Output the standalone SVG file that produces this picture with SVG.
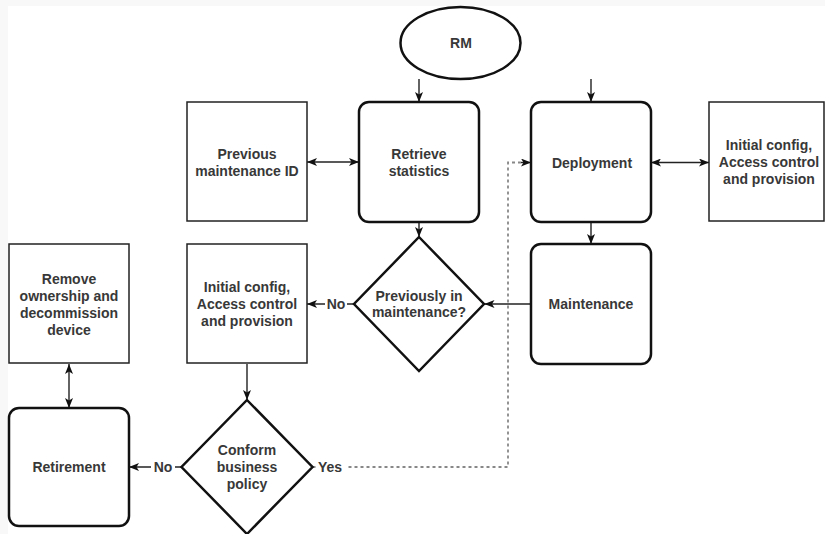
<svg xmlns="http://www.w3.org/2000/svg" width="825" height="534" viewBox="0 0 825 534">
  <defs>
    <marker id="arrow" viewBox="0 0 10 8" refX="10" refY="4" markerWidth="10" markerHeight="8" markerUnits="userSpaceOnUse" orient="auto-start-reverse">
      <path d="M0,0 L10,4 L0,8 L2.5,4 Z" fill="#111"/>
    </marker>
    <style>
      .box { fill: #fff; stroke: #222; stroke-width: 1.5; }
      .rbox { fill: #fff; stroke: #111; stroke-width: 2.5; }
      .dia { fill: #fff; stroke: #111; stroke-width: 2.5; }
      .lbl { font-family: "Liberation Sans", Arial, sans-serif; font-size: 14px; font-weight: bold; fill: #383838; text-anchor: middle; }
      .edge { fill: none; stroke: #222; stroke-width: 1.4; }
      .dash { fill: none; stroke: #888; stroke-width: 1.8; stroke-dasharray: 3 3; }
      .bg { fill: #fff; }
    </style>
  </defs>

  <!-- page -->
  <rect x="0" y="0" width="825" height="534" fill="#fff"/>
  <rect x="0" y="0" width="825" height="6" fill="#f8f8f8"/>
  <rect x="0" y="0" width="8" height="534" fill="#f8f8f8"/>

  <!-- connectors -->
  <g id="connectors">
    <path class="edge" d="M419,79 V102" marker-end="url(#arrow)"/>
    <path class="edge" d="M591,79 V102" marker-end="url(#arrow)"/>
    <path class="edge" d="M419,222 V237" marker-end="url(#arrow)"/>
    <path class="edge" d="M591,222 V244" marker-end="url(#arrow)"/>
    <path class="edge" d="M307,162 H359" marker-start="url(#arrow)" marker-end="url(#arrow)"/>
    <path class="edge" d="M651,162.5 H709" marker-start="url(#arrow)" marker-end="url(#arrow)"/>
    <path class="edge" d="M531,304 H484.5" marker-end="url(#arrow)"/>
    <path class="edge" d="M353.5,304 H307" marker-end="url(#arrow)"/>
    <path class="edge" d="M247,364 V400" marker-end="url(#arrow)"/>
    <path class="edge" d="M69,364 V408" marker-start="url(#arrow)" marker-end="url(#arrow)"/>
    <path class="edge" d="M182,467 H129" marker-end="url(#arrow)"/>
    <path class="dash" d="M312.5,467 H508 V162.5 H522"/>
    <path class="edge" d="M521,162.5 H531" stroke="none" marker-end="url(#arrow)"/>
    <!-- edge labels -->
    <rect class="bg" x="325" y="296" width="22" height="16"/>
    <text class="lbl" x="336" y="309">No</text>
    <rect class="bg" x="151" y="459" width="24" height="16"/>
    <text class="lbl" x="163" y="472">No</text>
    <rect class="bg" x="316" y="459" width="30" height="16"/>
    <text class="lbl" x="330" y="472">Yes</text>
  </g>

  <g id="rm">
    <ellipse class="dia" cx="460.5" cy="43" rx="60" ry="36"/>
    <text class="lbl" x="461" y="48">RM</text>
  </g>

  <g id="retrieve-statistics">
    <rect class="rbox" x="359" y="102" width="120" height="120" rx="10"/>
    <text class="lbl" x="419" y="159"><tspan x="419">Retrieve</tspan><tspan x="419" dy="16.8">statistics</tspan></text>
  </g>

  <g id="previous-maintenance-id">
    <rect class="box" x="187" y="102" width="120" height="119"/>
    <text class="lbl" x="247" y="159"><tspan x="247">Previous</tspan><tspan x="247" dy="16.8">maintenance ID</tspan></text>
  </g>

  <g id="deployment">
    <rect class="rbox" x="531" y="102" width="120" height="120" rx="10"/>
    <text class="lbl" x="592" y="168">Deployment</text>
  </g>

  <g id="initial-config-right">
    <rect class="box" x="709" y="102" width="115" height="119"/>
    <text class="lbl" x="769" y="150"><tspan x="769">Initial config,</tspan><tspan x="769" dy="16.8">Access control</tspan><tspan x="769" dy="16.8">and provision</tspan></text>
  </g>

  <g id="maintenance">
    <rect class="rbox" x="531" y="244" width="120" height="120" rx="10"/>
    <text class="lbl" x="591" y="309">Maintenance</text>
  </g>

  <g id="previously-in-maintenance">
    <polygon class="dia" points="419,237 484,304 419,371 354,304"/>
    <text class="lbl" x="419" y="300.6"><tspan x="419">Previously in</tspan><tspan x="419" dy="16.8">maintenance?</tspan></text>
  </g>

  <g id="initial-config-left">
    <rect class="box" x="187" y="244" width="120" height="119"/>
    <text class="lbl" x="247" y="292.2"><tspan x="247">Initial config,</tspan><tspan x="247" dy="16.8">Access control</tspan><tspan x="247" dy="16.8">and provision</tspan></text>
  </g>

  <g id="remove-ownership">
    <rect class="box" x="9" y="244" width="120" height="119"/>
    <text class="lbl" x="69" y="284.3"><tspan x="69">Remove</tspan><tspan x="69" dy="16.8">ownership and</tspan><tspan x="69" dy="16.8">decommission</tspan><tspan x="69" dy="16.8">device</tspan></text>
  </g>

  <g id="conform-business-policy">
    <polygon class="dia" points="247,400 312.5,467 247,534 181.5,467"/>
    <text class="lbl" x="247" y="455"><tspan x="247">Conform</tspan><tspan x="247" dy="16.8">business</tspan><tspan x="247" dy="16.8">policy</tspan></text>
  </g>

  <g id="retirement">
    <rect class="rbox" x="9" y="408" width="120" height="118" rx="10"/>
    <text class="lbl" x="69" y="472">Retirement</text>
  </g>
</svg>
